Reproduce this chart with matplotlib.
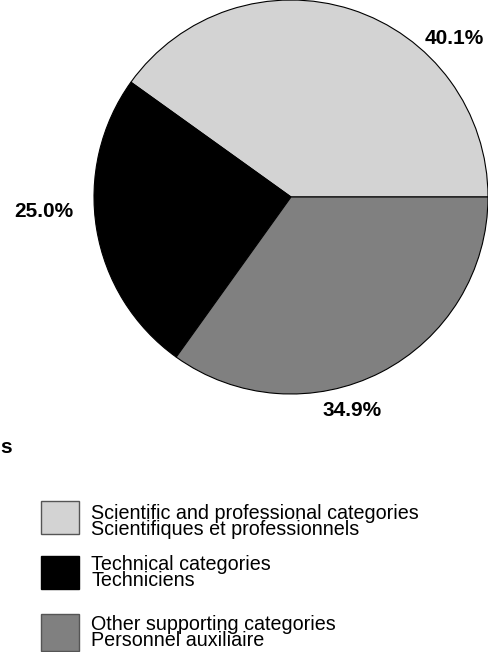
import matplotlib
matplotlib.use("Agg")
import matplotlib.pyplot as plt
from matplotlib.patches import Rectangle

categories_en = ["Scientific and professional categories", "Technical categories", "Other supporting categories"]
categories_fr = ["Scientifiques et professionnels", "Techniciens", "Personnel auxiliaire"]
values = [40.1, 25.0, 34.9]
pct_labels = ["40.1%", "25.0%", "34.9%"]
colors = ["#D3D3D3", "#000000", "#808080"]

plt.rcParams['font.family'] = ['Liberation Sans', 'DejaVu Sans']

W, H = 489, 652
fig = plt.figure(figsize=(W / 100, H / 100), dpi=100)
ax = fig.add_axes([0, 0, 1, 1])
ax.set_xlim(0, W)
ax.set_ylim(0, H)
ax.set_aspect('equal')
ax.axis('off')

cx, cy, r = 291, H - 197, 197
wedges, _ = ax.pie(values, colors=colors, startangle=0, counterclock=True,
                   center=(cx, cy), radius=r, frame=True,
                   wedgeprops=dict(edgecolor='black', linewidth=0.8))
ax.set_xlim(0, W)
ax.set_ylim(0, H)
ax.axis('off')

label_pos = [(454, 38), (44, 212), (352, 410)]
for (x, y), t in zip(label_pos, pct_labels):
    ax.text(x, H - y, t, ha='center', va='center', fontsize=15, fontweight='bold')

ax.text(0, H - 453, "s", ha='left', va='baseline', fontsize=15, fontweight='bold')

box_tops = [501, 556, 614]
box_bottoms = [534, 589, 651]
last_baselines = [535, 586, 646]
for i in range(3):
    ec = 'black' if i == 1 else '#555555'
    ax.add_patch(Rectangle((40.5, H - box_bottoms[i]), 38.5, box_bottoms[i] - box_tops[i],
                           facecolor=colors[i], edgecolor=ec, linewidth=1.0))
    ax.text(91, H - last_baselines[i], categories_en[i] + "\n" + categories_fr[i],
            ha='left', va='baseline', fontsize=14.2, linespacing=0.8)

fig.savefig("out.png", dpi=100, facecolor='white')
